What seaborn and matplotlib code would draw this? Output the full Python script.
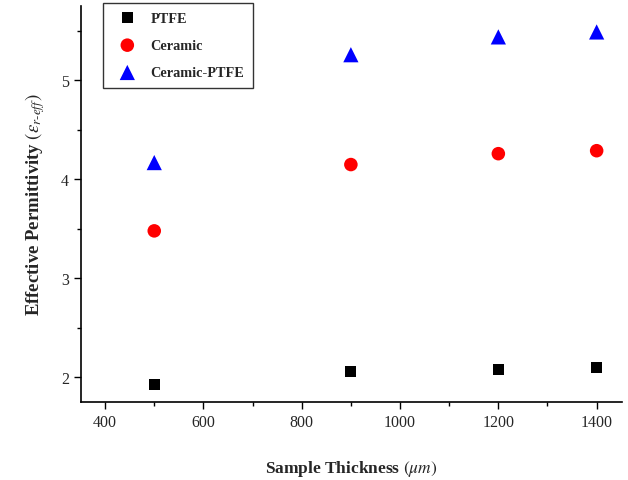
import pandas as pd
import matplotlib.pyplot as plt
import seaborn as sns
from matplotlib.ticker import MultipleLocator

# data
thickness = [500, 900, 1200, 1400]
ptfe = [1.93, 2.06, 2.08, 2.10]
ceramic = [3.48, 4.15, 4.26, 4.29]
ceramic_ptfe = [4.17, 5.26, 5.44, 5.49]

series_names = ["PTFE", "Ceramic", "Ceramic-PTFE"]
series_vals = [ptfe, ceramic, ceramic_ptfe]

rows = []
for name, vals in zip(series_names, series_vals):
    for t, v in zip(thickness, vals):
        rows.append({"thickness": t, "eps": v, "material": name})
df = pd.DataFrame(rows)

sns.set_style("ticks")
plt.rcParams["font.family"] = ["Liberation Serif", "DejaVu Serif"]
plt.rcParams["mathtext.fontset"] = "stix"

fig = plt.figure(figsize=(6.28, 4.81), dpi=100)
ax = fig.add_axes([0.129, 0.162, 0.861, 0.823])

palette = {"PTFE": "black", "Ceramic": "red", "Ceramic-PTFE": "blue"}
markers = {"PTFE": "s", "Ceramic": "o", "Ceramic-PTFE": "^"}
sizes = {"PTFE": 64, "Ceramic": 95, "Ceramic-PTFE": 120}

sns.scatterplot(data=df, x="thickness", y="eps", hue="material", style="material",
                palette=palette, markers=markers, size="material", sizes=sizes,
                edgecolor="none", linewidth=0, ax=ax, legend=False)

ax.set_xlim(351, 1451)
ax.set_ylim(1.75, 5.75)
ax.xaxis.set_major_locator(MultipleLocator(200))
ax.xaxis.set_minor_locator(MultipleLocator(100))
ax.yaxis.set_major_locator(MultipleLocator(1))
ax.yaxis.set_minor_locator(MultipleLocator(0.5))
ax.tick_params(which="major", length=5, width=1, labelsize=11.5, color="black")
ax.tick_params(which="minor", length=3, width=1, color="black")

for side in ["top", "right"]:
    ax.spines[side].set_visible(False)
for side in ["left", "bottom"]:
    ax.spines[side].set_linewidth(1.2)
    ax.spines[side].set_color("black")

ax.set_xlabel(r"Sample Thickness $(\mu m)$", fontsize=12.5, fontweight="bold", labelpad=20)
ax.set_ylabel(r"Effective Permittivity $\left(\varepsilon_{r\text{-}eff}\right)$",
              fontsize=13.5, fontweight="bold", labelpad=10)

# legend
handles = []
for name in series_names:
    h = ax.scatter([], [], marker=markers[name], color=palette[name],
                   s=sizes[name], edgecolor="none", label=name)
    handles.append(h)
leg = fig.legend(handles=handles, loc="upper left",
                 bbox_to_anchor=(103 / 628, 1 - 4 / 481), borderaxespad=0,
                 frameon=True, fancybox=False, edgecolor="black",
                 prop={"weight": "bold", "size": 10.3}, handletextpad=0.5,
                 labelspacing=1.0, borderpad=0.6, handlelength=2.2)
leg.get_frame().set_linewidth(1.0)

fig.savefig("out.png", dpi=100)
